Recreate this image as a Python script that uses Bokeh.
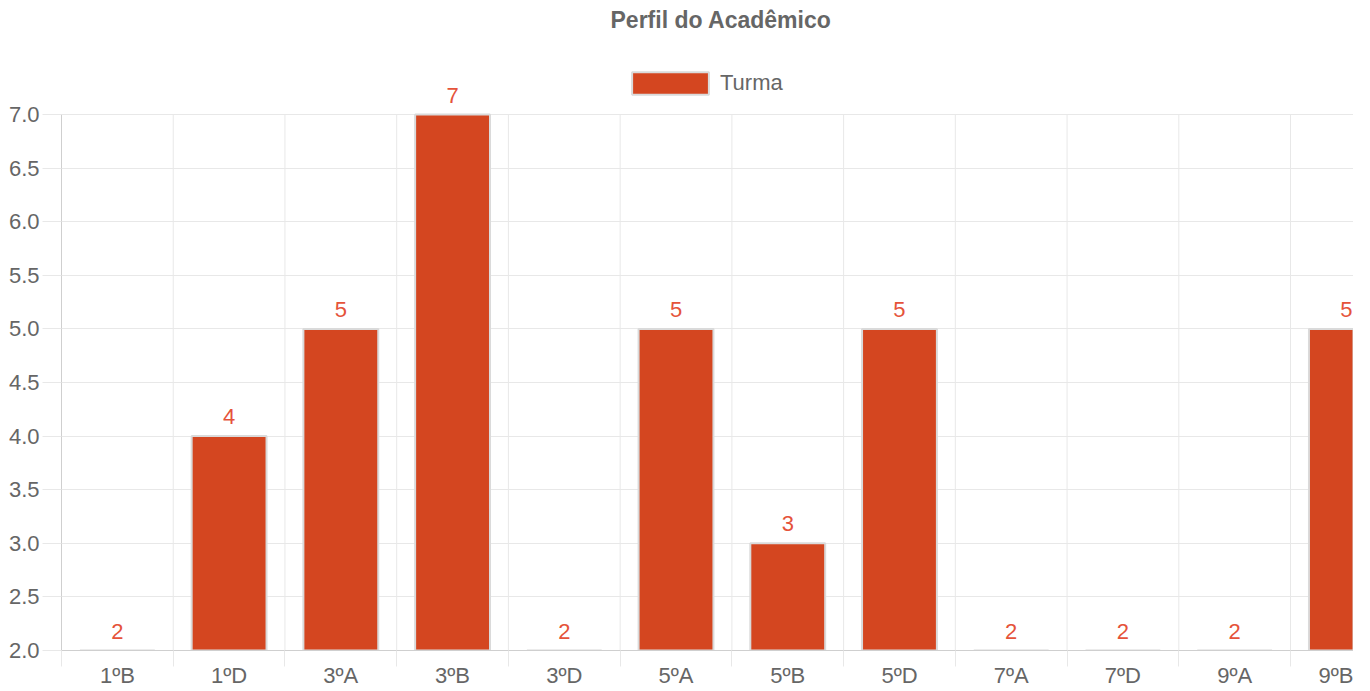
import numpy as np
from bokeh.plotting import figure
from bokeh.models import (Range1d, FixedTicker, NumeralTickFormatter,
                          ColumnDataSource, LabelSet, Legend, LegendItem)
from bokeh.core.properties import value
from bokeh.embed import file_html
from bokeh.resources import INLINE

# ---- data ----
categories = ["1ºB", "1ºD", "3ºA", "3ºB", "3ºD", "5ºA", "5ºB", "5ºD", "7ºA", "7ºD", "9ºA", "9ºB"]
values = [2, 4, 5, 7, 2, 5, 3, 5, 2, 2, 2, 5]
series_name = "Turma"
title_text = "Perfil do Acadêmico"
y_min, y_max, y_step = 2.0, 7.0, 0.5

# ---- styling ----
BAR = "#D44620"
BAR_EDGE = "#DADADA"
LABEL_RED = "#E5533A"
TXT = "#666666"
GRID = "#E8E8E8"
AXIS = "#CFCFCF"
FONT = "Liberation Sans"

FRAME_TOP = 36          # px from top of figure
FRAME_BOTTOM = 650
FRAME_LEFT = 61
FRAME_W = 1292
PX_PER_UNIT = (FRAME_BOTTOM - 114) / (y_max - y_min)   # 7.0 gridline at 114 px
y_top = y_max + (114 - FRAME_TOP) / PX_PER_UNIT
x_end = FRAME_W / 111.73

idx = np.arange(len(categories))
centers = idx + 0.5
bounds = np.arange(len(categories) + 1).astype(float)
yticks = list(np.arange(y_min, y_max + 1e-9, y_step))

src = ColumnDataSource(dict(x=centers, top=values, bottom=[y_min] * len(values),
                            lbl=[str(v) for v in values]))
gsrc = ColumnDataSource(dict(x=bounds, y0=[y_min] * len(bounds), y1=[y_max] * len(bounds)))

p = figure(frame_width=FRAME_W, frame_height=FRAME_BOTTOM - FRAME_TOP,
           x_range=Range1d(0, x_end), y_range=Range1d(y_min, y_top),
           output_backend="svg", toolbar_location=None,
           min_border_left=FRAME_LEFT, min_border_right=0,
           min_border_top=FRAME_TOP, min_border_bottom=691 - FRAME_BOTTOM)
p.outline_line_color = None
p.background_fill_color = "white"
p.border_fill_color = "white"

# title
p.title.text = title_text
p.title.align = "left"
p.title.offset = 549
p.title.text_font = FONT
p.title.text_font_size = "23px"
p.title.text_font_style = "bold"
p.title.text_color = TXT
p.title.standoff = 8

# vertical grid lines (category boundaries), limited to the value range
p.segment(x0="x", x1="x", y0="y0", y1="y1", source=gsrc, line_color=GRID,
          line_width=1, level="underlay")
p.xgrid.visible = False

# bars
r = p.vbar(x="x", top="top", bottom="bottom", width=0.67, source=src,
           fill_color=BAR, line_color=BAR_EDGE, line_width=2)

# value labels
labels = LabelSet(x="x", y="top", text="lbl", source=src, text_align="center",
                  text_baseline="alphabetic", y_offset=12, text_font=value(FONT),
                  text_font_size=value("22px"), text_color=LABEL_RED)
p.add_layout(labels)

# x axis
xa = p.xaxis[0]
xa.ticker = FixedTicker(ticks=list(centers), minor_ticks=list(bounds))
xa.major_label_overrides = {float(c): cat for c, cat in zip(centers, categories)}
xa.major_tick_line_color = None
xa.major_tick_out = 0
xa.major_tick_in = 0
xa.minor_tick_line_color = GRID
xa.minor_tick_out = 16
xa.minor_tick_in = 0
xa.axis_line_color = AXIS
xa.major_label_standoff = -4
xa.major_label_text_font = FONT
xa.major_label_text_font_size = "22px"
xa.major_label_text_color = TXT

# y axis
ya = p.yaxis[0]
ya.ticker = FixedTicker(ticks=yticks, minor_ticks=[])
ya.formatter = NumeralTickFormatter(format="0.0")
ya.bounds = (y_min, y_max)
ya.major_tick_line_color = GRID
ya.major_tick_out = 19
ya.major_tick_in = 0
ya.minor_tick_line_color = None
ya.axis_line_color = AXIS
ya.major_label_standoff = 3
ya.major_label_text_font = FONT
ya.major_label_text_font_size = "22px"
ya.major_label_text_color = TXT
p.ygrid.grid_line_color = GRID

# legend
legend = Legend(items=[LegendItem(label=series_name, renderers=[r])],
                location=(561, 553), orientation="horizontal",
                glyph_width=96, glyph_height=28, label_standoff=2,
                padding=0, margin=0, border_line_color=None,
                background_fill_alpha=0,
                label_text_font=FONT, label_text_font_size="22px", label_text_color=TXT)
p.add_layout(legend, "center")

open("out.html", "w").write(file_html(p, INLINE))
